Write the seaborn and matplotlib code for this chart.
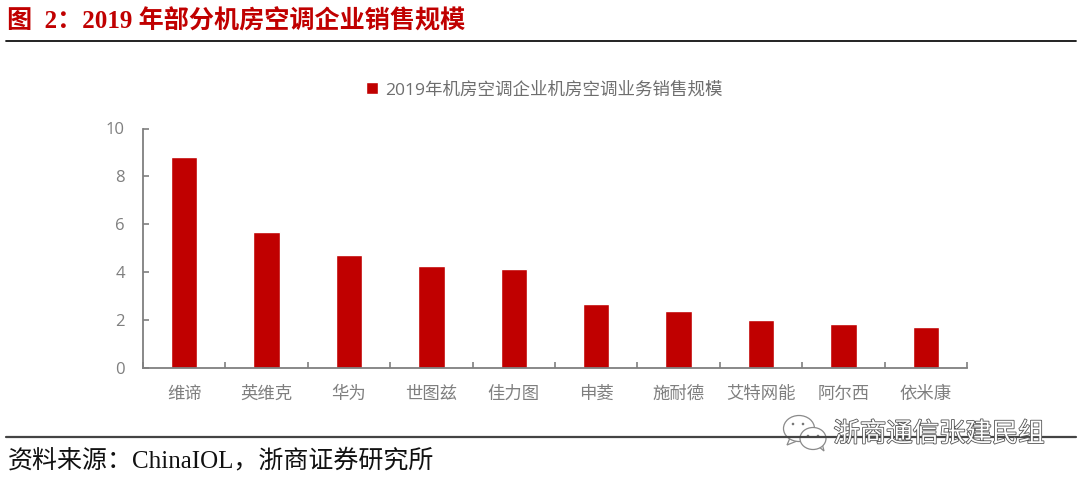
import matplotlib
matplotlib.use("Agg")
import matplotlib.pyplot as plt
import matplotlib.patheffects as pe
from matplotlib.patches import Ellipse, Polygon
import pandas as pd
import seaborn as sns

companies = ["维谛", "英维克", "华为", "世图兹", "佳力图", "申菱", "施耐德", "艾特网能", "阿尔西", "依米康"]
sales = [8.8, 5.65, 4.7, 4.26, 4.13, 2.65, 2.36, 1.97, 1.81, 1.68]
y_ticks = [0, 2, 4, 6, 8, 10]

series_name = "2019年机房空调企业机房空调业务销售规模"
title_text = "图  2：2019 年部分机房空调企业销售规模"
source_text = "资料来源：ChinaIOL，浙商证券研究所"
watermark = "浙商通信张建民组"

RED = "#c00000"
GREY = "#7f7f7f"
SERIF = ["Liberation Serif", "Noto Sans CJK SC"]
SANS = ["Open Sans", "Noto Sans CJK SC"]

sns.set_theme(style="white")
plt.rcParams["font.family"] = SANS

df = pd.DataFrame({"company": companies, "sales": sales})

fig = plt.figure(figsize=(10.8, 4.82), dpi=100)
ax = fig.add_axes([143 / 1080, 1 - 367.5 / 482, 824 / 1080, 239 / 482])

sns.barplot(data=df, x="company", y="sales", color=RED, saturation=1, width=0.32, ax=ax, label=series_name)

ax.set_xlim(-0.5, len(companies) - 0.5)
ax.set_ylim(0, 10)
ax.set_yticks(y_ticks)
ax.set_xticks([i - 0.5 for i in range(len(companies) + 1)], minor=True)
ax.set_xlabel("")
ax.set_ylabel("")
ax.set_xticks(range(len(companies)))
ax.set_xticklabels(companies, family=SERIF, fontsize=12.5, color=GREY)
ax.tick_params(axis="x", which="major", length=0, pad=14)
ax.tick_params(axis="x", which="minor", direction="in", length=4, width=1.2, color=GREY, bottom=True)
ax.tick_params(axis="y", direction="in", length=4, width=1.2, color=GREY, left=True, labelsize=12, labelcolor=GREY, pad=13)
sns.despine(ax=ax)
for side in ["left", "bottom"]:
    ax.spines[side].set_color(GREY)
    ax.spines[side].set_linewidth(1.3)

ax.legend(loc="center", bbox_to_anchor=(0.4865, 1.16), frameon=False, handlelength=0.7, handleheight=0.7,
          handletextpad=0.4, prop={"family": SANS, "size": 12.6}, labelcolor="#6e6e6e", borderpad=0, borderaxespad=0)

# page furniture, in pixel coordinates of the 1080x482 image
page = fig.add_axes([0, 0, 1, 1], zorder=5)
page.set_xlim(0, 1080)
page.set_ylim(482, 0)
page.axis("off")
page.patch.set_alpha(0)

page.text(7, 21, title_text, family=SERIF, fontsize=18.1, fontweight="bold", color=RED, va="center", ha="left")
page.plot([6, 1076], [41, 41], color="#111111", lw=1.3)
page.plot([6, 1076], [437, 437], color="#444444", lw=1.6)
page.text(8, 461, source_text, family=SERIF, fontsize=18, color="#111111", va="center", ha="left")

# wechat style watermark
icon = dict(facecolor="white", edgecolor="#8a8a8a", lw=0.9)
page.add_patch(Polygon([[790, 438], [787, 445], [797, 441]], **icon))
page.add_patch(Ellipse((799, 428.5), 31, 26, **icon))
page.add_patch(Polygon([[818, 446], [824, 451], [822, 443]], **icon))
page.add_patch(Ellipse((813, 438.5), 26, 22, **icon))
for ex, ey in [(793, 424), (803, 424), (808, 436), (818, 436)]:
    page.add_patch(Ellipse((ex, ey), 2.6, 2.6, facecolor="#777777", edgecolor="none"))
wm = page.text(939, 435, watermark, family=SANS, fontsize=19, color="white", va="center", ha="center")
wm.set_path_effects([pe.withStroke(linewidth=1.2, foreground="#555555")])

fig.savefig("out.png", dpi=100, facecolor="white")
